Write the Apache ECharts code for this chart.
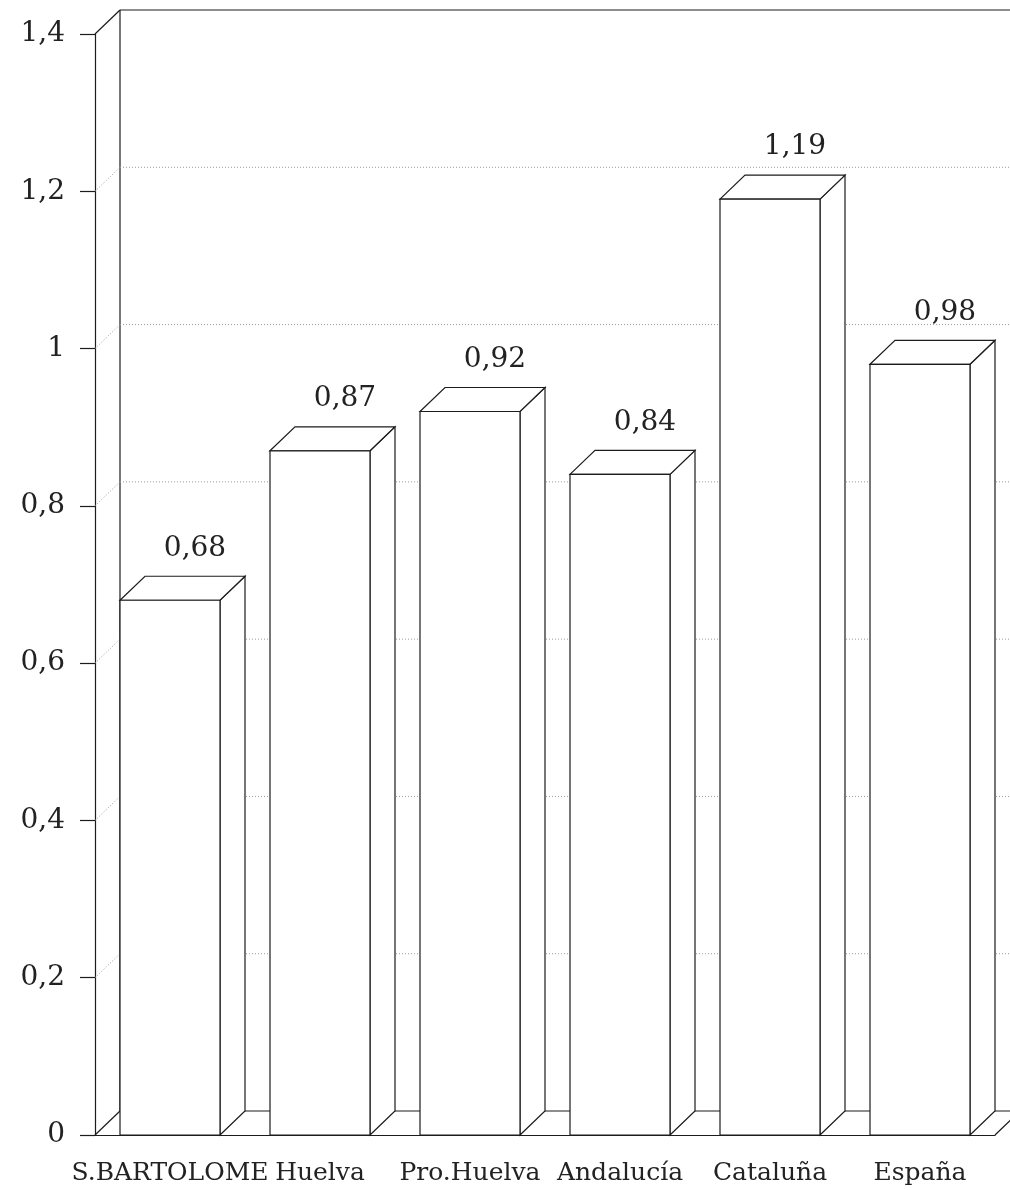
<!DOCTYPE html>
<html><head><meta charset="utf-8">
<script src="https://cdn.jsdelivr.net/npm/echarts@6/dist/echarts.min.js"></script>
<style>html,body{margin:0;padding:0;background:#fff}#c{width:1010px;height:1190px}</style>
</head><body><div id="c"></div>
<script>
const categories = ['S.BARTOLOME', 'Huelva', 'Pro.Huelva', 'Andalucía', 'Cataluña', 'España'];
const values = [0.68, 0.87, 0.92, 0.84, 1.19, 0.98];
const yTicks = [0, 0.2, 0.4, 0.6, 0.8, 1.0, 1.2, 1.4];
const Y_MAX = 1.4;

const DX = 25, DY = 24;
const LINE = '#1c1c1c';
const GRIDC = '#9a9a9a';
const FONT = 'DejaVu Serif';

function fmt(v) { return String(+(+v).toFixed(2)).replace('.', ','); }

function renderGrid(params, api) {
  const cs = params.coordSys;
  const W = api.getWidth();
  const v = api.value(1);
  const y = api.coord([0, v])[1];
  const x0 = cs.x, xEnd = cs.x + cs.width;
  const ch = [];
  if (v === 0) {
    const yTop = api.coord([0, Y_MAX])[1];
    const s = { stroke: LINE, lineWidth: 1.2, fill: null };
    ch.push({ type: 'line', shape: { x1: x0, y1: y, x2: x0 + DX, y2: y - DY }, style: s });
    ch.push({ type: 'line', shape: { x1: x0 + DX, y1: y - DY, x2: W + 5, y2: y - DY }, style: s });
    ch.push({ type: 'line', shape: { x1: xEnd, y1: y, x2: xEnd + DX, y2: y - DY }, style: s });
    ch.push({ type: 'line', shape: { x1: x0 + DX, y1: yTop - DY, x2: x0 + DX, y2: y - DY }, style: s });
  } else {
    const top = Math.abs(v - Y_MAX) < 1e-9;
    const s = top ? { stroke: LINE, lineWidth: 1.2 } : { stroke: GRIDC, lineWidth: 1, lineDash: [1, 2] };
    ch.push({ type: 'line', shape: { x1: x0, y1: y, x2: x0 + DX, y2: y - DY }, style: s });
    ch.push({ type: 'line', shape: { x1: x0 + DX, y1: y - DY, x2: W + 5, y2: y - DY }, style: s });
  }
  return { type: 'group', children: ch };
}

function renderBar(params, api) {
  const idx = api.value(0), v = api.value(1);
  const c = api.coord([idx, v]);
  const base = api.coord([idx, 0]);
  const band = api.size([1, 0])[0];
  const w = band * 2 / 3;
  const xl = c[0] - w / 2, xr = c[0] + w / 2;
  const yt = c[1], yb = base[1];
  const st = { fill: '#fff', stroke: LINE, lineWidth: 1.2 };
  return {
    type: 'group',
    children: [
      { type: 'polygon', shape: { points: [[xr, yb], [xr + DX, yb - DY], [xr + DX, yt - DY], [xr, yt]] }, style: st },
      { type: 'polygon', shape: { points: [[xl, yt], [xl + DX, yt - DY], [xr + DX, yt - DY], [xr, yt]] }, style: st },
      { type: 'rect', shape: { x: xl, y: yt, width: w, height: yb - yt }, style: st },
      { type: 'text', x: c[0] + DX, y: yt - DY - 14, style: { text: fmt(v), fill: '#222', font: '28px "' + FONT + '"', align: 'center', verticalAlign: 'bottom' } }
    ]
  };
}

const chart = echarts.init(document.getElementById('c'), null, { renderer: 'canvas' });
chart.setOption({
  animation: false,
  backgroundColor: '#fff',
  grid: { left: 95, right: 15, top: 34, bottom: 55, containLabel: false },
  xAxis: {
    type: 'category', data: categories,
    axisLine: { lineStyle: { color: LINE, width: 1.2 } },
    axisTick: { alignWithLabel: true, length: 15, lineStyle: { color: LINE, width: 1.2 } },
    axisLabel: { interval: 0, color: '#222', fontFamily: FONT, fontSize: 25, margin: 26 }
  },
  yAxis: {
    type: 'value', min: 0, max: Y_MAX, interval: 0.2,
    axisLine: { show: true, lineStyle: { color: LINE, width: 1.2 } },
    axisTick: { show: true, length: 15, lineStyle: { color: LINE, width: 1.2 } },
    axisLabel: { color: '#222', fontFamily: FONT, fontSize: 28, margin: 30, formatter: fmt },
    splitLine: { show: false }
  },
  series: [
    { type: 'custom', z: 1, renderItem: renderGrid, data: yTicks.map(v => [0, v]), silent: true, clip: false },
    { type: 'custom', z: 3, renderItem: renderBar, data: values.map((v, i) => [i, v]), clip: false }
  ]
});
</script>
</body></html>
